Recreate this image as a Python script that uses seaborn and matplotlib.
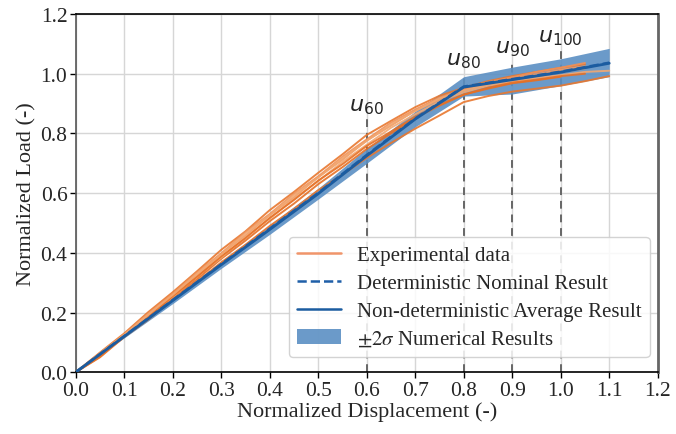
import numpy as np
import pandas as pd
import matplotlib
matplotlib.use("Agg")
import matplotlib.pyplot as plt
import seaborn as sns
from matplotlib.lines import Line2D
from matplotlib.patches import Patch

# ---------------- data ----------------
exp_x = [0.00, 0.05, 0.10, 0.15, 0.20, 0.25, 0.30, 0.35, 0.40, 0.45, 0.50,
         0.55, 0.60, 0.65, 0.70, 0.75, 0.80, 0.85, 0.90, 0.95, 1.00, 1.05, 1.10]

exp_1 = [0, 0.066, 0.130, 0.202, 0.268, 0.338, 0.410, 0.472, 0.543, 0.604, 0.668,
         0.730, 0.795, 0.842, 0.888, 0.926, 0.953, 0.975, 0.992, 1.006, 1.020, 1.032]
exp_2 = [0, 0.058, 0.127, 0.190, 0.262, 0.325, 0.396, 0.458, 0.526, 0.586, 0.654,
         0.712, 0.776, 0.826, 0.876, 0.913, 0.947, 0.968, 0.987, 0.998, 1.013, 1.025]
exp_3 = [0, 0.052, 0.120, 0.181, 0.250, 0.311, 0.380, 0.441, 0.506, 0.565, 0.630,
         0.687, 0.748, 0.800, 0.852, 0.893, 0.930, 0.950, 0.968, 0.978, 0.990]
exp_4 = [0, 0.060, 0.121, 0.189, 0.252, 0.321, 0.384, 0.453, 0.514, 0.581, 0.640,
         0.705, 0.762, 0.819, 0.864, 0.907, 0.938, 0.960, 0.972, 0.986, 0.995, 1.006, 1.010]
exp_5 = [0, 0.050, 0.118, 0.177, 0.244, 0.303, 0.368, 0.427, 0.490, 0.547, 0.610,
         0.662, 0.718, 0.768, 0.816, 0.860, 0.905, 0.925, 0.940, 0.950, 0.960, 0.975, 0.992]
exp_6 = [0, 0.064, 0.126, 0.197, 0.262, 0.334, 0.398, 0.470, 0.530, 0.598, 0.656,
         0.722, 0.780, 0.836, 0.880, 0.920, 0.948, 0.972, 0.988, 1.006, 1.020, 1.036]
exp_7 = [0, 0.054, 0.122, 0.185, 0.255, 0.319, 0.388, 0.449, 0.517, 0.577, 0.642,
         0.697, 0.758, 0.806, 0.856, 0.896, 0.930, 0.953, 0.970, 0.980, 0.992, 1.000]
exp_8 = [0, 0.062, 0.125, 0.194, 0.259, 0.330, 0.395, 0.465, 0.526, 0.593, 0.652,
         0.717, 0.775, 0.830, 0.875, 0.917, 0.944, 0.964, 0.978, 0.994, 1.005, 1.018]
exp_curves = [exp_1, exp_2, exp_3, exp_4, exp_5, exp_6, exp_7, exp_8]

num_x = [0.0, 0.1, 0.2, 0.3, 0.4, 0.5, 0.6, 0.7, 0.8, 0.9, 1.0, 1.1]
nominal = [0, 0.121, 0.242, 0.362, 0.481, 0.601, 0.728, 0.850, 0.957, 0.982, 1.007, 1.037]
mean_res = [0, 0.120, 0.240, 0.360, 0.478, 0.598, 0.725, 0.848, 0.955, 0.980, 1.005, 1.035]
upper = [0, 0.125, 0.250, 0.372, 0.494, 0.616, 0.750, 0.874, 0.990, 1.022, 1.050, 1.085]
lower = [0, 0.115, 0.230, 0.348, 0.462, 0.580, 0.700, 0.822, 0.925, 0.932, 0.960, 0.990]

marker_x = [0.6, 0.8, 0.9, 1.0]
marker_top = [0.848, 1.0, 1.04, 1.076]
marker_labels = [r"$u_{60}$", r"$u_{80}$", r"$u_{90}$", r"$u_{100}$"]

x_ticks = [0.0, 0.1, 0.2, 0.3, 0.4, 0.5, 0.6, 0.7, 0.8, 0.9, 1.0, 1.1, 1.2]
y_ticks = [0.0, 0.2, 0.4, 0.6, 0.8, 1.0, 1.2]

# ---------------- style ----------------
sns.set_style("whitegrid")
plt.rcParams["font.family"] = ["Liberation Serif", "DejaVu Serif"]
plt.rcParams["mathtext.fontset"] = "stix"

fig = plt.figure(figsize=(6.76, 4.35), dpi=100)
ax = fig.add_axes([0.112, 0.142, 0.861, 0.8235])

band_color = "#5b8fc3"
ax.fill_between(num_x, lower, upper, color=band_color, alpha=0.9, lw=0, zorder=2)

rows = []
for i, c in enumerate(exp_curves):
    for xv, yv in zip(exp_x, c):
        rows.append({"x": xv, "y": yv, "test": i})
df = pd.DataFrame(rows)
exp_colors = ["#e8772e", "#f09a62", "#e67025", "#f2a872", "#e8772e", "#ef9158", "#e67025", "#f2a872"]
sns.lineplot(data=df, x="x", y="y", hue="test", units="test", estimator=None,
             palette=exp_colors, lw=1.4, alpha=0.9, ax=ax, legend=False, zorder=3,
             sort=False)

dfn = pd.DataFrame({"x": num_x, "nominal": nominal, "mean": mean_res})
sns.lineplot(data=dfn, x="x", y="nominal", color="#1f5fa8", lw=1.8, ls="--", ax=ax, zorder=4)
sns.lineplot(data=dfn, x="x", y="mean", color="#1b5ca0", lw=2.0, ax=ax, zorder=5)

for xv, top, lab in zip(marker_x, marker_top, marker_labels):
    ax.plot([xv, xv], [0, top], ls=(0, (4, 3)), color="#666666", lw=1.4, zorder=1.5)
    ax.text(xv, top + 0.012, lab, ha="center", va="bottom", fontsize=16,
            math_fontfamily="dejavusans", zorder=6)

ax.set_xlim(0, 1.2)
ax.set_ylim(0, 1.2)
ax.set_xticks(x_ticks)
ax.set_yticks(y_ticks)
ax.set_xticklabels([f"{v:.1f}" for v in x_ticks], fontsize=15.5)
ax.set_yticklabels([f"{v:.1f}" for v in y_ticks], fontsize=15.5)
ax.set_xlabel("Normalized Displacement (-)", fontsize=16, labelpad=1)
ax.set_ylabel("Normalized Load (-)", fontsize=16, labelpad=3)
ax.tick_params(axis="both", direction="out", length=4, width=1, color="black",
               bottom=True, left=True, pad=2)
ax.grid(True, color="#d6d6d6", lw=1)
ax.set_axisbelow(True)

for side in ["top", "bottom"]:
    ax.spines[side].set_color("black")
    ax.spines[side].set_linewidth(1.2)
ax.spines["left"].set_color("#555555")
ax.spines["left"].set_linewidth(1.2)
ax.spines["right"].set_color("#666666")
ax.spines["right"].set_linewidth(2.0)

handles = [
    Line2D([], [], color="#f0956a", lw=1.8),
    Line2D([], [], color="#1f5fa8", lw=1.8, ls="--"),
    Line2D([], [], color="#1b5ca0", lw=1.8),
    Patch(facecolor=band_color, alpha=0.9, lw=0),
]
labels = ["Experimental data", "Deterministic Nominal Result",
          "Non-deterministic Average Result", r"$\pm 2\sigma$ Numerical Results"]
leg = ax.legend(handles, labels, loc="lower right", bbox_to_anchor=(0.986, 0.042),
                borderaxespad=0, fontsize=15, frameon=True, framealpha=0.85,
                edgecolor="#cccccc", handlelength=2.1, labelspacing=0.4,
                borderpad=0.4, handletextpad=0.75)
leg.set_zorder(10)

fig.savefig("out.png", dpi=100)
